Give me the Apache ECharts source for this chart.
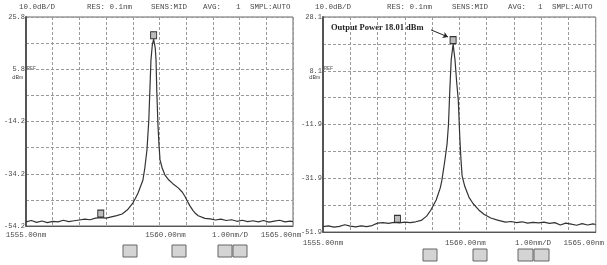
<!DOCTYPE html>
<html>
<head>
<meta charset="utf-8">
<script src="https://cdn.jsdelivr.net/npm/echarts@6/dist/echarts.min.js"></script>
<style>
  html, body { margin: 0; padding: 0; background: #fff; }
  #chart { width: 607px; height: 265px; }
</style>
</head>
<body>
<div id="chart"></div>
<script>
// wavelength (nm) / level (dBm)
var leftWl = [1555.0, 1555.2, 1555.4, 1555.6, 1555.8, 1556.0, 1556.2, 1556.4, 1556.6, 1556.8,
  1557.0, 1557.2, 1557.4, 1557.6, 1557.8, 1558.0, 1558.2, 1558.4, 1558.6, 1558.8,
  1559.0, 1559.1, 1559.2, 1559.3, 1559.38, 1559.45, 1559.53, 1559.6, 1559.64, 1559.68,
  1559.73, 1559.78, 1559.84, 1559.87, 1559.9, 1559.94, 1559.98, 1560.02, 1560.1, 1560.2,
  1560.35, 1560.5, 1560.7, 1560.85, 1560.96, 1561.05, 1561.14, 1561.25, 1561.33, 1561.45,
  1561.52, 1561.7, 1561.9, 1562.1, 1562.3, 1562.5, 1562.7, 1562.9, 1563.1, 1563.3,
  1563.5, 1563.7, 1563.9, 1564.1, 1564.3, 1564.5, 1564.7, 1564.9, 1565.0];
var leftDbm = [-52.6, -52.1, -52.8, -52.3, -52.9, -52.4, -52.6, -52.0, -52.5, -52.2,
  -51.9, -51.6, -51.8, -51.2, -51.0, -51.2, -50.7, -50.2, -49.6, -48.0,
  -45.4, -43.6, -41.5, -38.8, -36.6, -32.0, -25.1, -13.6, -2.1, 9.3,
  15.0, 17.3, 14.0, 9.3, -3.0, -15.0, -23.0, -28.9, -32.0, -34.6,
  -36.6, -38.0, -39.6, -41.2, -43.0, -44.8, -46.5, -48.2, -49.2, -50.3,
  -50.8, -51.3, -51.5, -51.9, -51.6, -52.1, -51.8, -52.4, -52.0, -52.5,
  -52.2, -52.6, -52.1, -52.7, -52.3, -52.0, -52.6, -52.3, -52.5];

var rightWl = [1555.0, 1555.2, 1555.4, 1555.6, 1555.8, 1556.0, 1556.2, 1556.4, 1556.6, 1556.8,
  1557.0, 1557.2, 1557.4, 1557.6, 1557.8, 1558.0, 1558.2, 1558.4, 1558.6, 1558.8,
  1558.95, 1559.15, 1559.3, 1559.36, 1559.47, 1559.55, 1559.6, 1559.65, 1559.7, 1559.77,
  1559.84, 1559.9, 1559.96, 1560.02, 1560.06, 1560.1, 1560.2, 1560.35, 1560.5, 1560.71,
  1560.9, 1561.15, 1561.4, 1561.69, 1561.9, 1562.1, 1562.3, 1562.5, 1562.7, 1562.9,
  1563.1, 1563.3, 1563.5, 1563.7, 1563.9, 1564.1, 1564.3, 1564.5, 1564.7, 1564.9, 1565.0];
var rightDbm = [-49.9, -49.6, -50.1, -49.8, -49.2, -49.7, -50.0, -49.6, -49.9, -49.5,
  -48.6, -48.4, -48.7, -48.3, -48.5, -48.2, -48.4, -48.1, -47.6, -46.0,
  -43.8, -40.0, -35.5, -32.6, -25.1, -19.0, -12.0, 0.9, 12.1, 18.01,
  12.1, 4.0, -2.8, -17.7, -25.1, -31.0, -35.0, -38.9, -41.3, -43.7,
  -45.3, -46.7, -47.5, -48.2, -48.0, -48.4, -48.1, -48.6, -48.3, -48.5,
  -48.2, -48.7, -48.4, -49.3, -48.6, -49.0, -49.4, -48.8, -49.3, -48.9, -49.1];

var leftMarkers = [[1559.78, 17.3], [1557.8, -51.0]];
var rightMarkers = [[1559.77, 18.01], [1557.73, -48.5]];

var leftYRange = [-54.2, 25.8];
var rightYRange = [-51.9, 28.1];
var xTickValues = [1555, 1560, 1565];
var xTickTexts = ['1555.00nm', '1560.00nm', '1565.00nm'];
var headerTexts = ['10.0dB/D', 'RES: 0.1nm', 'SENS:MID', 'AVG:', '1', 'SMPL:AUTO'];
var scaleText = '1.00nm/D';
var noteText = 'Output Power 18.01 dBm';

var mono = '"Liberation Mono", "DejaVu Sans Mono", monospace';
var ink = '#4a4a4a';

function pairs(xs, ys) {
  var out = [];
  for (var i = 0; i < xs.length; i++) out.push([xs[i], ys[i]]);
  return out;
}

// the instrument prints its wavelength labels a little off the ticks
var xLabelRich = {
  a: { color: ink, fontFamily: mono, fontSize: 7.5 },
  b: { color: ink, fontFamily: mono, fontSize: 7.5, padding: [0, 0, 0, 12] },
  c: { color: ink, fontFamily: mono, fontSize: 7.5, padding: [0, 24, 0, 0] }
};

function xAxisFor(gi, margin) {
  return {
    type: 'value', gridIndex: gi, min: 1555, max: 1565, interval: 1,
    axisLine: { show: true, onZero: false, lineStyle: { color: '#555', width: 1 } },
    axisTick: { show: false },
    splitLine: { show: true, lineStyle: { color: '#9a9a9a', type: [3, 2], width: 1 } },
    axisLabel: {
      show: true, margin: margin, rich: xLabelRich,
      formatter: function (v) {
        var k = xTickValues.indexOf(Math.round(v * 100) / 100);
        if (k < 0) return '';
        return '{' + ['a', 'b', 'c'][k] + '|' + xTickTexts[k] + '}';
      }
    }
  };
}

function yAxisFor(gi, range) {
  return {
    type: 'value', gridIndex: gi, min: range[0], max: range[1], interval: 10,
    axisLine: { show: true, onZero: false, lineStyle: { color: '#555', width: 2 } },
    axisTick: { show: false },
    splitLine: { show: true, lineStyle: { color: '#9a9a9a', type: [3, 2], width: 1 } },
    axisLabel: {
      show: true, margin: 1, color: ink, fontFamily: mono, fontSize: 7,
      formatter: function (v) {
        var steps = Math.round((v - range[0]) / 10);
        if (steps % 2 !== 0) return '';
        return (Math.round(v * 10) / 10).toFixed(1);
      }
    }
  };
}

function traceFor(gi, xs, ys, marks, extra) {
  var s = {
    type: 'line', xAxisIndex: gi, yAxisIndex: gi,
    data: pairs(xs, ys), showSymbol: false, smooth: false,
    lineStyle: { color: '#333', width: 1.2 },
    silent: true, animation: false,
    markPoint: {
      symbol: 'rect', symbolSize: [6, 7], symbolOffset: [0, -4],
      itemStyle: { color: '#bdbdbd', borderColor: '#333', borderWidth: 1 },
      label: { show: false },
      data: marks.map(function (m) { return { coord: m }; })
    }
  };
  if (extra) s.markLine = extra;
  return s;
}

function header(x0, xs, y) {
  return headerTexts.map(function (t, i) {
    return { type: 'text', left: x0 + xs[i], top: y,
      style: { text: t, fill: ink, font: '7.5px ' + mono } };
  });
}

function buttons(list) {
  return list.map(function (b) {
    return { type: 'rect', shape: { x: b[0], y: b[1], width: b[2], height: b[3] },
      style: { fill: '#d4d4d4', stroke: '#666', lineWidth: 1 } };
  });
}

var chart = echarts.init(document.getElementById('chart'));

var graphics = []
  .concat(header(0, [19, 87, 151, 203, 236, 250], 3))
  .concat(header(300, [15, 87, 152, 208, 238, 252], 3))
  .concat([
    { type: 'text', left: 27, top: 66, style: { text: 'REF', fill: ink, font: '5px ' + mono } },
    { type: 'text', left: 12, top: 74, style: { text: 'dBm', fill: ink, font: '6px ' + mono } },
    { type: 'text', left: 324, top: 66, style: { text: 'REF', fill: ink, font: '5px ' + mono } },
    { type: 'text', left: 309, top: 74, style: { text: 'dBm', fill: ink, font: '6px ' + mono } },
    { type: 'text', left: 212, top: 231, style: { text: scaleText, fill: ink, font: '7.5px ' + mono } },
    { type: 'text', left: 515, top: 239, style: { text: scaleText, fill: ink, font: '7.5px ' + mono } },
    { type: 'text', left: 331, top: 23, style: { text: noteText, fill: '#222', font: 'bold 8.5px "Liberation Serif", serif' } }
  ])
  .concat(buttons([[123, 245, 14, 12], [172, 245, 14, 12], [218, 245, 14, 12], [233, 245, 14, 12],
    [423, 249, 14, 12], [473, 249, 14, 12], [518, 249, 15, 12], [534, 249, 15, 12]]));

var option = {
  backgroundColor: '#fff',
  animation: false,
  grid: [
    { left: 26, right: 314, top: 17, bottom: 39, show: true, borderColor: '#666', borderWidth: 1 },
    { left: 323, right: 9, top: 17, bottom: 33, show: true, borderColor: '#666', borderWidth: 1 }
  ],
  xAxis: [xAxisFor(0, 5), xAxisFor(1, 7)],
  yAxis: [yAxisFor(0, leftYRange), yAxisFor(1, rightYRange)],
  series: [
    traceFor(0, leftWl, leftDbm, leftMarkers),
    traceFor(1, rightWl, rightDbm, rightMarkers, {
      silent: true, symbol: ['none', 'arrow'], symbolSize: 5,
      lineStyle: { color: '#222', type: 'solid', width: 1 },
      label: { show: false },
      data: [[{ coord: [1558.96, 23.3] }, { coord: [1559.58, 20.7] }]]
    })
  ],
  graphic: graphics
};

chart.setOption(option);
</script>
</body>
</html>
